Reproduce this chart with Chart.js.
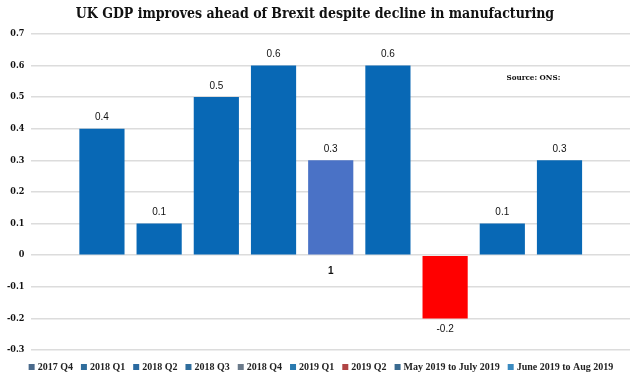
<!DOCTYPE html>
<html>
<head>
<meta charset="utf-8">
<script src="https://cdn.jsdelivr.net/npm/chart.js@4"></script>
<style>
  html, body { margin: 0; padding: 0; background: #fff; }
  #wrap { width: 634px; height: 376px; position: relative; }
</style>
</head>
<body>
<div id="wrap"><canvas id="chart"></canvas></div>
<script>
const categories = ['1'];
const seriesNames = ['2017 Q4', '2018 Q1', '2018 Q2', '2018 Q3', '2018 Q4', '2019 Q1', '2019 Q2', 'May 2019 to July 2019', 'June 2019 to Aug 2019'];
const growth = [0.4, 0.1, 0.5, 0.6, 0.3, 0.6, -0.2, 0.1, 0.3];
const barColors = ['#0868b5', '#0868b5', '#0868b5', '#0868b5', '#4a72c6', '#0868b5', '#ff0000', '#0868b5', '#0868b5'];
const legendColors = ['#4a6a8c', '#2f6d9c', '#2a6aa0', '#2f6d9c', '#6b7a8a', '#2a7ab0', '#b04444', '#3a6a90', '#3a8ac0'];
const yMin = -0.3, yMax = 0.7, yStep = 0.1;

const serif = "'DejaVu Serif Condensed', 'DejaVu Serif', serif";
const narrowSerif = "'Liberation Serif', 'Times New Roman', serif";

const valueLabels = {
  id: 'valueLabels',
  afterDatasetsDraw(chart) {
    const ctx = chart.ctx;
    ctx.save();
    ctx.font = "10px 'Liberation Sans', Arial, sans-serif";
    ctx.fillStyle = '#111';
    ctx.textAlign = 'center';
    chart.data.datasets.forEach((ds, i) => {
      const bar = chart.getDatasetMeta(i).data[0];
      const v = ds.data[0];
      if (v >= 0) {
        ctx.textBaseline = 'bottom';
        ctx.fillText(v.toFixed(1), bar.x, bar.y - 6);
      } else {
        ctx.textBaseline = 'top';
        ctx.fillText(v.toFixed(1), bar.x, bar.y + 6);
      }
    });
    // source note
    const ys = chart.scales.y;
    ctx.font = "bold 8px " + serif;
    ctx.textAlign = 'left';
    ctx.textBaseline = 'middle';
    ctx.fillText('Source: ONS:', chart.chartArea.left + 475, ys.getPixelForValue(0.56));
    ctx.restore();
  }
};

// one-line legend at the bottom, the built-in one keeps wrapping
const bottomLegend = {
  id: 'bottomLegend',
  afterDraw(chart) {
    const ctx = chart.ctx;
    const box = 6, gapBox = 3, gapItem = 8;
    ctx.save();
    ctx.font = "bold 10px " + narrowSerif;
    const widths = seriesNames.map(n => ctx.measureText(n).width);
    const total = widths.reduce((a, b) => a + b, 0) + seriesNames.length * (box + gapBox) + (seriesNames.length - 1) * gapItem;
    let x = (chart.width - total) / 2 + 4;
    const y = chart.height - 9;
    ctx.textBaseline = 'middle';
    ctx.textAlign = 'left';
    seriesNames.forEach((n, i) => {
      ctx.fillStyle = legendColors[i];
      ctx.fillRect(x, y - box / 2, box, box);
      x += box + gapBox;
      ctx.fillStyle = '#222';
      ctx.fillText(n, x, y);
      x += widths[i] + gapItem;
    });
    ctx.restore();
  }
};

new Chart(document.getElementById('chart'), {
  type: 'bar',
  data: {
    labels: categories,
    datasets: seriesNames.map((name, i) => ({
      label: name,
      data: [growth[i]],
      backgroundColor: barColors[i],
      borderWidth: 0
    }))
  },
  options: {
    responsive: true,
    maintainAspectRatio: false,
    animation: false,
    categoryPercentage: 0.86,
    barPercentage: 0.79,
    layout: { padding: { top: 4, right: 4, left: 0, bottom: 26 } },
    plugins: {
      title: {
        display: true,
        text: 'UK GDP improves ahead of Brexit despite decline in manufacturing',
        color: '#111',
        font: { family: serif, size: 14, weight: 'bold' },
        padding: { top: 2, bottom: 11 }
      },
      legend: { display: false },
      tooltip: { enabled: false }
    },
    scales: {
      x: {
        position: { y: 0 },
        grid: { display: false },
        border: { display: false },
        ticks: {
          color: '#111',
          padding: 2,
          font: { family: "'Liberation Sans', Arial, sans-serif", size: 10, weight: 'bold' }
        }
      },
      y: {
        min: yMin,
        max: yMax,
        grid: { color: '#dcdcdc', lineWidth: 1.5, drawTicks: false },
        border: { display: false },
        ticks: {
          stepSize: yStep,
          padding: 7,
          color: '#111',
          font: { family: serif, size: 9, weight: 'bold' },
          callback: v => Math.abs(v) < 1e-9 ? '0' : v.toFixed(1)
        }
      }
    }
  },
  plugins: [valueLabels, bottomLegend]
});
</script>
</body>
</html>
